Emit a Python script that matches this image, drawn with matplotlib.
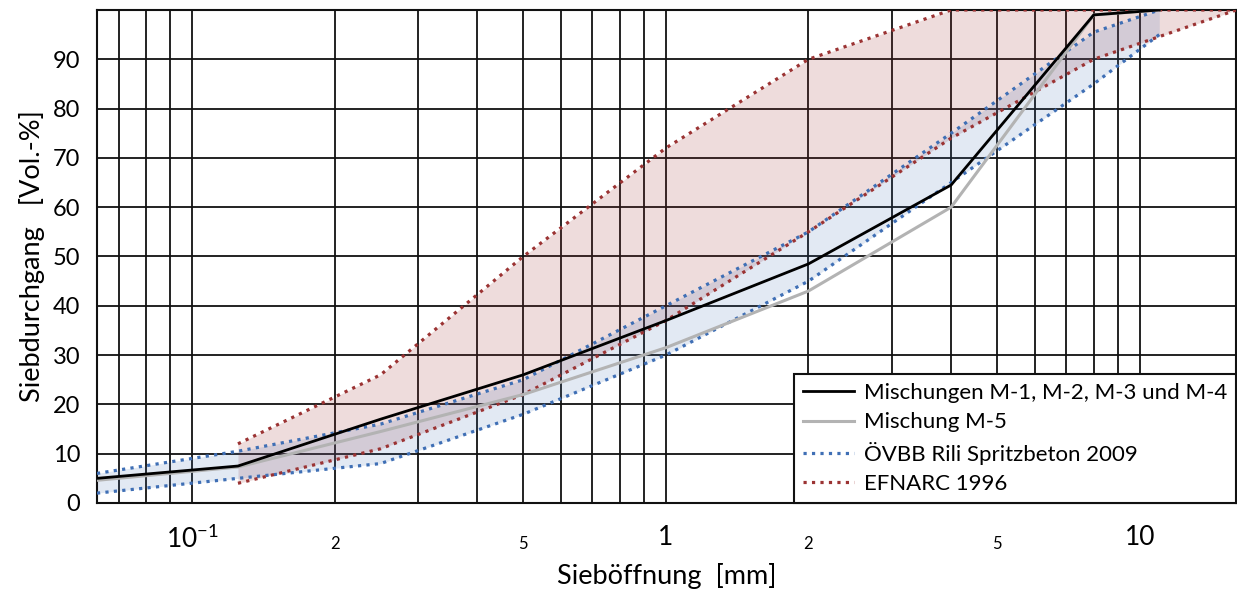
import numpy as np
import matplotlib
matplotlib.use("Agg")
import matplotlib.pyplot as plt
from matplotlib.ticker import FixedLocator, FixedFormatter, LogLocator, FuncFormatter

plt.rcParams['font.family'] = ['Lato', 'DejaVu Sans']

# Sieblinien (Siebdurchgang in Vol.-%)
sieve = [0.063, 0.125, 0.25, 0.5, 1, 2, 4, 8, 11]
mix_m1_m4 = [5, 7.5, 17, 26, 37, 48.5, 64.5, 99, 100]
mix_m5 = [4.6, 7.3, 14.5, 22, 31.5, 43, 60, 99, 100]

# Grenzsieblinien ÖVBB Richtlinie Spritzbeton 2009
ovbb_sieve = [0.063, 0.125, 0.25, 0.5, 1, 2, 4, 8, 11]
ovbb_upper = [6, 10.5, 16, 25, 40, 55, 75, 95.5, 100]
ovbb_lower = [2, 5, 8, 18, 30, 45, 65, 85, 95]

# Grenzsieblinien EFNARC 1996
efnarc_sieve = [0.125, 0.25, 0.5, 1, 2, 4, 8, 16]
efnarc_upper = [12, 26, 50, 72, 90, 100, 100, 100]
efnarc_lower = [4, 11, 22, 37, 55, 74, 90, 100]

major_ticks = [0.1, 1, 10]
major_labels = [r'$\mathregular{10^{-1}}$', '1', '10']

blue = '#3f6fb5'
red = '#9b3333'

fig = plt.figure(figsize=(12.37, 5.94), dpi=100)
ax = fig.add_axes([0.0784, 0.1532, 0.9211, 0.8300])

ax.fill_between(efnarc_sieve, efnarc_lower, efnarc_upper, color=red, alpha=0.17, lw=0)
ax.fill_between(ovbb_sieve, ovbb_lower, ovbb_upper, color=blue, alpha=0.15, lw=0)

ax.plot(ovbb_sieve, ovbb_upper, ls=':', color=blue, lw=2.3, zorder=3,
        label='ÖVBB Rili Spritzbeton 2009')
ax.plot(ovbb_sieve, ovbb_lower, ls=':', color=blue, lw=2.3, zorder=3)
ax.plot(efnarc_sieve, efnarc_upper, ls=':', color=red, lw=2.3, zorder=3,
        label='EFNARC 1996')
ax.plot(efnarc_sieve, efnarc_lower, ls=':', color=red, lw=2.3, zorder=3)
ax.plot(sieve, mix_m5, color='#b3b3b3', lw=2.2, zorder=4, label='Mischung M-5')
ax.plot(sieve, mix_m1_m4, color='black', lw=2.0, zorder=5,
        label='Mischungen M-1, M-2, M-3 und M-4')

ax.set_xscale('log')
ax.set_xlim(0.063, 16)
ax.set_ylim(0, 100)

ax.xaxis.set_major_locator(FixedLocator(major_ticks))
ax.xaxis.set_major_formatter(FixedFormatter(major_labels))
ax.xaxis.set_minor_locator(LogLocator(base=10, subs=np.arange(2, 10)))


def minor_label(v, pos):
    d = int(round(v / 10 ** np.floor(np.log10(v) + 1e-9)))
    return str(d) if d in (2, 5) else ''


ax.xaxis.set_minor_formatter(FuncFormatter(minor_label))
ax.set_yticks(np.arange(0, 100, 10))

ax.set_axisbelow(True)
ax.grid(True, which='both', color='#111111', lw=1.3)
ax.tick_params(which='both', length=0)
ax.tick_params(axis='y', labelsize=17, pad=12)
ax.tick_params(axis='x', which='major', labelsize=19, pad=16)
ax.tick_params(axis='x', which='minor', labelsize=12, pad=24)
for s in ax.spines.values():
    s.set_linewidth(1.5)
    s.set_color('#111111')

ax.set_xlabel('Sieböffnung  [mm]', fontsize=19.5)
ax.set_ylabel('Siebdurchgang   [Vol.-%]', fontsize=19.5)
ax.xaxis.set_label_coords(0.5, -0.122)
ax.yaxis.set_label_coords(-0.046, 0.5)

handles, labels = ax.get_legend_handles_labels()
order = [3, 2, 0, 1]
leg = ax.legend([handles[i] for i in order], [labels[i] for i in order],
                loc='lower right', fontsize=16, frameon=True, fancybox=False,
                borderaxespad=0, handlelength=2.3, handletextpad=0.45,
                labelspacing=0.42, borderpad=0.4)
leg.get_frame().set_edgecolor('#111111')
leg.get_frame().set_linewidth(1.5)
leg.get_frame().set_alpha(1)

fig.savefig('out.png', dpi=100)
